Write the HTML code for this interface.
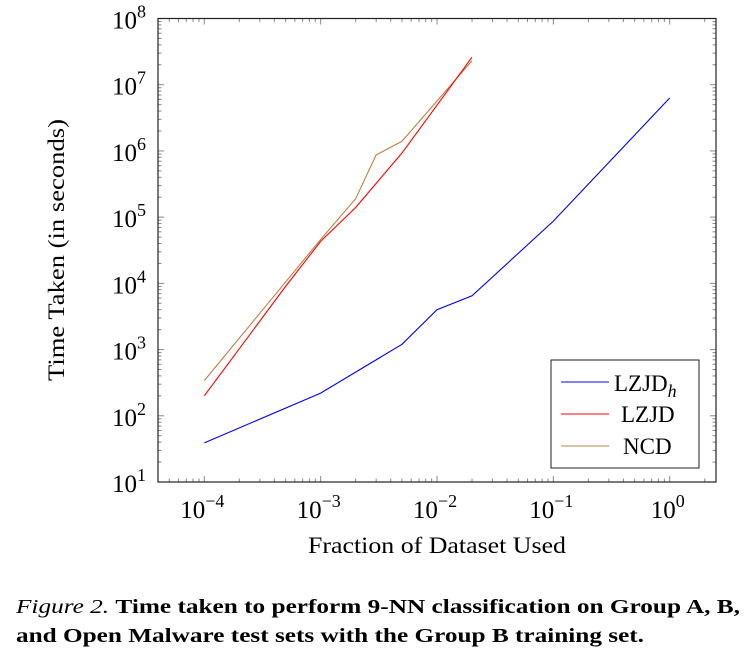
<!DOCTYPE html>
<html><head><meta charset="utf-8"><style>
body{margin:0;background:#fff;}
svg{display:block;font-family:"Liberation Serif",serif;}
</style></head><body>
<svg width="750" height="660">
<g id="ticks"></g>
<g id="lines"></g>
<rect x="158" y="18.5" width="558" height="463.5" fill="none" stroke="#222" stroke-width="1.2"/>
<g id="labels"></g>
<text x="437" y="553" font-size="23" text-anchor="middle" textLength="258" lengthAdjust="spacingAndGlyphs">Fraction of Dataset Used</text>
<text transform="translate(64,250) rotate(-90)" font-size="23" text-anchor="middle" textLength="262" lengthAdjust="spacingAndGlyphs">Time Taken (in seconds)</text>
<g>
<rect x="551" y="360" width="148" height="108" fill="#fff" stroke="#222" stroke-width="1"/>
<line x1="561" y1="382" x2="609" y2="382" stroke="#00f"/>
<text x="614" y="391" font-size="23">LZJD<tspan font-style="italic" font-size="18" dy="6">h</tspan></text>
<line x1="561" y1="414" x2="609" y2="414" stroke="#f00"/>
<text x="621" y="422" font-size="23">LZJD</text>
<line x1="561" y1="446" x2="609" y2="446" stroke="#bf8040"/>
<text x="623" y="454" font-size="23">NCD</text>
</g>
<text x="16" y="613" font-size="20" textLength="724" lengthAdjust="spacingAndGlyphs"><tspan font-style="italic">Figure 2.</tspan> <tspan font-weight="bold">Time taken to perform 9-NN classification on Group A, B,</tspan></text>
<text x="16" y="642" font-size="20" font-weight="bold" textLength="628" lengthAdjust="spacingAndGlyphs">and Open Malware test sets with the Group B training set.</text>
</svg>
<script>
const xVals=[1e-4,1e-3,5e-3,1e-2,2e-2,1e-1,1];
const lzjdhVals=[39,220,1200,4000,6500,87000,6.3e6];
const lzjdX=[1e-4,5e-4,1e-3,2e-3,5e-3,1e-2,2e-2];
const lzjdVals=[200,9000,43000,140000,930000,4.9e6,2.6e7];
const ncdX=[1e-4,1e-3,2e-3,3e-3,5e-3,2e-2];
const ncdVals=[340,46000,190000,870000,1.4e6,2.3e7];
const xTickExps=[-4,-3,-2,-1,0];
const yTickExps=[1,2,3,4,5,6,7,8];
const NS="http://www.w3.org/2000/svg";
const X0=158,X1=716,Y0=482,Y1=18.5;
const xmin=-4.398,xmax=0.398,ymin=1,ymax=8;
function sx(v){return X0+(Math.log10(v)-xmin)/(xmax-xmin)*(X1-X0);}
function sy(v){return Y0-(Math.log10(v)-ymin)/(ymax-ymin)*(Y0-Y1);}
function mk(t,a,p){const e=document.createElementNS(NS,t);for(const k in a)e.setAttribute(k,a[k]);p.appendChild(e);return e;}
const tg=document.getElementById('ticks'),lg=document.getElementById('labels'),ln=document.getElementById('lines');
for(let e=-5;e<=0;e++)for(let m=1;m<10;m++){const v=m*Math.pow(10,e);const x=sx(v);if(x<X0||x>X1)continue;const L=m==1?6:3.5;
const a=mk('line',{x1:x,x2:x,y1:Y0,y2:Y0-L,stroke:'#888'},tg);
const b=mk('line',{x1:x,x2:x,y1:Y1,y2:Y1+L,stroke:'#888'},tg);}
for(let e=1;e<8;e++)for(let m=1;m<10;m++){const v=m*Math.pow(10,e);const y=sy(v);const L=m==1?6:3.5;
const a=mk('line',{x1:X0,x2:X0+L,y1:y,y2:y,stroke:'#888'},tg);
const b=mk('line',{x1:X1,x2:X1-L,y1:y,y2:y,stroke:'#888'},tg);}
xTickExps.forEach(e=>{const t=mk('text',{x:sx(Math.pow(10,e))-2,y:518,'font-size':25,'text-anchor':'middle'},lg);

t.innerHTML='10<tspan font-size="18" dy="-11">'+(e<0?'\u2212'+(-e):e)+'</tspan>';});
yTickExps.forEach(e=>{const t=mk('text',{x:146,y:sy(Math.pow(10,e))+10,'font-size':25,'text-anchor':'end'},lg);

t.innerHTML='10<tspan font-size="18" dy="-11">'+e+'</tspan>';});
function line(xs,ys,c,name){const p=mk('polyline',{points:xs.map((x,i)=>sx(x)+','+sy(ys[i])).join(' '),fill:'none',stroke:c,'stroke-width':1.1},ln);
}
line(ncdX,ncdVals,'#bf8040','series-ncd');
line(lzjdX,lzjdVals,'#f00','series-lzjd');
line(xVals,lzjdhVals,'#00f','series-lzjdh');
</script>
</body></html>
